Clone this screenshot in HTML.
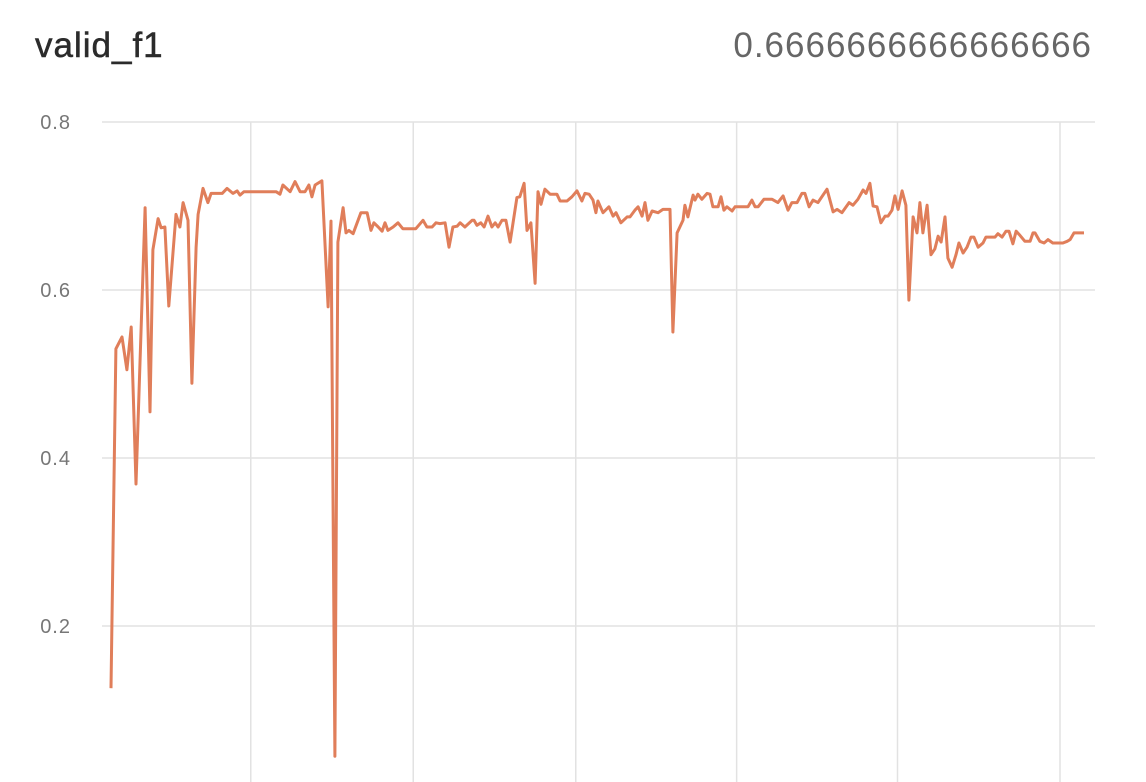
<!DOCTYPE html>
<html><head><meta charset="utf-8"><style>
html,body{margin:0;padding:0;background:#fff;width:1146px;height:782px;overflow:hidden;font-family:"Liberation Sans",sans-serif}
#title{position:absolute;left:35px;top:26px;font-size:35px;letter-spacing:1px;color:#2b2b2b;-webkit-text-stroke:0.5px #2b2b2b}
#val{position:absolute;right:54px;top:26px;font-size:35px;letter-spacing:1px;color:#666}
svg{position:absolute;left:0;top:0}
</style></head><body>
<div id="title">valid_f1</div>
<div id="val">0.6666666666666666</div>
<svg id="chart" width="1146" height="782"></svg>
<script>
const steps=[0,1.5,3.4,4.9,6.2,7.7,10.5,12.0,12.9,14.5,15.4,16.6,17.8,20.0,21.2,22.2,23.7,24.9,26.2,26.8,28.3,29.8,30.8,34.2,35.7,37.5,38.8,39.7,40.9,50.8,52.0,52.9,55.1,56.6,58.2,59.7,60.9,61.8,62.8,64.9,66.8,67.7,68.9,69.8,71.4,72.3,73.2,74.5,76.9,78.8,80.0,80.9,82.2,83.4,84.3,85.2,86.8,88.3,89.8,93.8,96.0,97.2,98.8,100.0,101.2,102.8,104.0,105.2,106.5,107.4,108.9,111.1,111.7,112.6,113.8,114.8,116.0,117.2,118.2,119.1,120.3,121.5,122.8,124.9,125.8,127.1,128.0,129.2,130.5,131.4,132.3,133.5,135.1,137.2,138.2,140.3,141.8,143.4,144.9,145.8,147.1,148.3,149.2,149.8,151.4,153.2,154.5,155.4,156.9,158.8,159.7,161.2,162.2,163.4,164.3,165.2,166.5,168.3,169.8,172.0,172.9,174.2,176.0,176.6,177.5,179.1,179.7,180.6,181.8,183.4,184.3,185.2,186.8,187.7,188.6,189.5,191.1,192.0,196.0,197.2,198.2,199.1,200.9,203.4,205.2,206.8,208.3,209.5,211.1,212.6,213.5,214.8,216.0,217.5,220.3,222.2,223.4,224.9,227.1,228.3,229.8,231.4,232.3,233.5,234.5,235.7,236.9,238.2,239.1,240.3,241.2,242.2,243.4,244.6,245.5,246.8,248.0,248.9,249.8,251.1,252.3,253.5,254.5,255.4,256.6,257.5,258.8,260.0,260.9,262.2,263.4,264.6,265.5,266.8,268.3,269.2,272.0,272.9,274.2,275.4,276.3,277.5,278.5,279.7,281.2,282.8,283.7,284.3,285.8,287.1,288.3,289.8,292.9,294.2,295.1,296.3,299.4];
const values=[0.126,0.530,0.544,0.505,0.556,0.369,0.698,0.455,0.648,0.685,0.674,0.675,0.581,0.690,0.675,0.704,0.683,0.489,0.651,0.690,0.721,0.704,0.715,0.715,0.721,0.715,0.718,0.713,0.717,0.717,0.714,0.725,0.717,0.729,0.717,0.717,0.725,0.711,0.725,0.730,0.580,0.682,0.045,0.657,0.698,0.668,0.671,0.667,0.692,0.692,0.671,0.680,0.675,0.670,0.680,0.671,0.675,0.680,0.673,0.673,0.683,0.675,0.675,0.680,0.679,0.680,0.651,0.675,0.676,0.680,0.675,0.683,0.683,0.677,0.680,0.675,0.688,0.675,0.680,0.675,0.683,0.683,0.657,0.710,0.711,0.727,0.671,0.680,0.608,0.717,0.702,0.720,0.714,0.714,0.706,0.706,0.711,0.718,0.706,0.715,0.714,0.707,0.692,0.706,0.692,0.699,0.688,0.692,0.680,0.687,0.687,0.695,0.699,0.688,0.704,0.683,0.694,0.692,0.696,0.696,0.550,0.668,0.683,0.701,0.687,0.713,0.707,0.714,0.708,0.715,0.714,0.699,0.699,0.711,0.695,0.699,0.694,0.699,0.699,0.707,0.699,0.699,0.708,0.708,0.704,0.712,0.695,0.704,0.704,0.715,0.715,0.699,0.707,0.704,0.720,0.693,0.696,0.692,0.704,0.701,0.708,0.719,0.715,0.727,0.700,0.699,0.680,0.688,0.688,0.695,0.712,0.696,0.718,0.701,0.588,0.687,0.668,0.704,0.668,0.701,0.642,0.649,0.664,0.657,0.687,0.638,0.627,0.642,0.656,0.644,0.651,0.663,0.663,0.651,0.656,0.663,0.663,0.667,0.663,0.670,0.670,0.655,0.670,0.665,0.658,0.658,0.668,0.668,0.658,0.656,0.660,0.656,0.656,0.658,0.660,0.668,0.668];
const yTicks=[0.8,0.6,0.4,0.2];
const yTickLabels=["0.8","0.6","0.4","0.2"];
const xGridSteps=[43,93,143,192.5,242,292];

const X0=111,XK=3.25,Y0=122,YK=840;
const xs=s=>X0+s*XK;
const ys=v=>Y0+(0.8-v)*YK;
const NS="http://www.w3.org/2000/svg";
const svg=document.getElementById('chart');
function mk(t,a){const e=document.createElementNS(NS,t);for(const k in a)e.setAttribute(k,a[k]);svg.appendChild(e);return e;}

yTicks.forEach((t,i)=>{
  const l=mk('line',{x1:102,x2:1095,y1:ys(t),y2:ys(t),stroke:'#e2e2e2','stroke-width':1.5});
  
  
  const tx=mk('text',{x:71,y:ys(t)+7,'text-anchor':'end','font-size':20,'letter-spacing':1,fill:'#777','font-family':'Liberation Sans, sans-serif'});
  tx.textContent=yTickLabels[i];
  
  
});
xGridSteps.forEach(s=>{
  const l=mk('line',{x1:xs(s),x2:xs(s),y1:122,y2:782,stroke:'#e2e2e2','stroke-width':1.5});
  
  
});
const d=steps.map((s,i)=>(i?'L':'M')+xs(s).toFixed(1)+','+ys(values[i]).toFixed(1)).join(' ');
const p=mk('path',{d:d,fill:'none',stroke:'#e07e5a','stroke-width':3,'stroke-linejoin':'round'});


</script>
</body></html>
